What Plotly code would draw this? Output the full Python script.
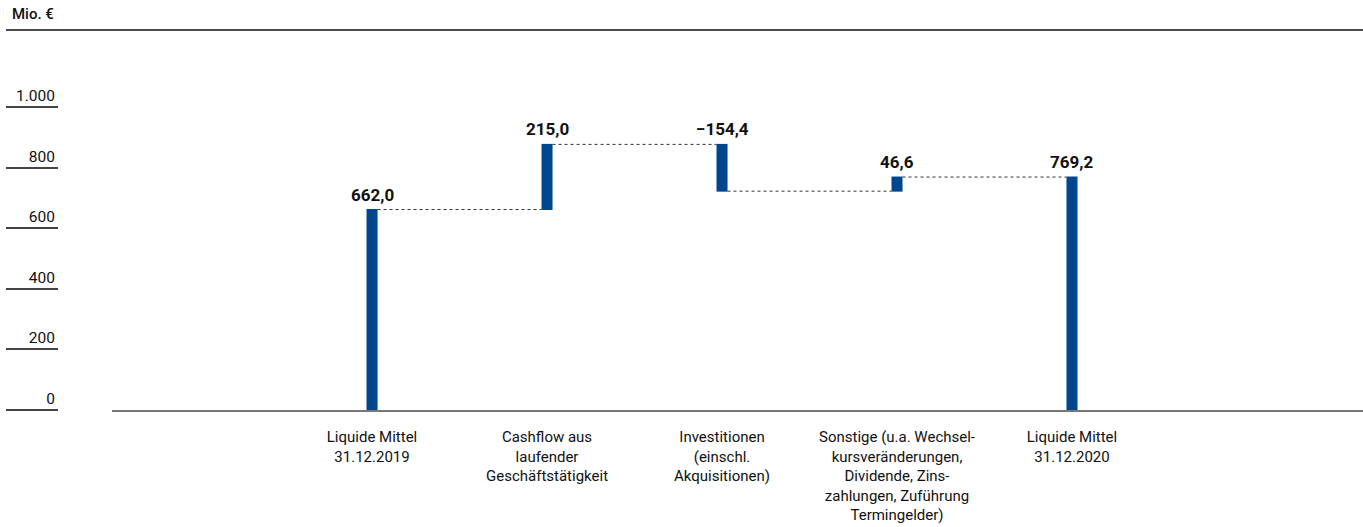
import plotly.graph_objects as go

categories = [
    "Liquide Mittel<br>31.12.2019",
    "Cashflow aus<br>laufender<br>Geschäftstätigkeit",
    "Investitionen<br>(einschl.<br>Akquisitionen)",
    "Sonstige (u.a. Wechsel-<br>kursveränderungen,<br>Dividende, Zins-<br>zahlungen, Zuführung<br>Termingelder)",
    "Liquide Mittel<br>31.12.2020",
]
values = [662.0, 215.0, -154.4, 46.6, 769.2]
measures = ["absolute", "relative", "relative", "relative", "total"]
value_labels = ["662,0", "215,0", "\u2212154,4", "46,6", "769,2"]
y_tickvals = [0, 200, 400, 600, 800, 1000]
y_ticktext = ["0", "200", "400", "600", "800", "1.000"]

BLUE = "#00468e"
FONT = "Roboto"

x_pos = list(range(len(categories)))

fig = go.Figure()
fig.add_trace(go.Waterfall(
    x=x_pos,
    y=values,
    measure=measures,
    width=0.063,
    increasing=dict(marker=dict(color=BLUE)),
    decreasing=dict(marker=dict(color=BLUE)),
    totals=dict(marker=dict(color=BLUE)),
    connector=dict(mode="between", line=dict(color="#333333", width=1, dash="dot")),
    hoverinfo="skip",
    showlegend=False,
))

# value labels at the top of each bar
running = 0.0
for i, (v, m) in enumerate(zip(values, measures)):
    if m == "absolute":
        start, end = 0.0, v
    elif m == "total":
        start, end = 0.0, running
    else:
        start, end = running, running + v
    running = end
    top = max(start, end)
    fig.add_annotation(x=x_pos[i], y=top, text="<b>" + value_labels[i] + "</b>",
                       showarrow=False, yanchor="bottom", xanchor="center", yshift=3,
                       font=dict(family=FONT, size=17, color="#111111"))

W, H = 1363, 527
ml, mr, mt, mb = 6, 0, 92, 117
paper_w = W - ml - mr
x_dom0 = (112 - ml) / paper_w
y_pos = (58 - ml) / paper_w

fig.update_layout(
    width=W, height=H,
    margin=dict(l=ml, r=mr, t=mt, b=mb),
    plot_bgcolor="white", paper_bgcolor="white",
    font=dict(family=FONT, size=15, color="#111111"),
    xaxis=dict(
        domain=[x_dom0, 1],
        range=[-1.486, 5.663],
        tickvals=x_pos, ticktext=categories,
        showgrid=False, zeroline=False,
        showline=True, linecolor="#777777", linewidth=2,
        ticks="", ticklabelstandoff=12,
        tickfont=dict(family=FONT, size=15, color="#111111"),
    ),
    yaxis=dict(
        range=[0, 1050],
        anchor="free", position=y_pos,
        tickvals=y_tickvals, ticktext=y_ticktext,
        ticks="outside", ticklen=52, tickwidth=1.5, tickcolor="#444444",
        ticklabelposition="outside top",
        showgrid=False, zeroline=False, showline=False,
        tickfont=dict(family=FONT, size=15.5, color="#111111"),
    ),
)

fig.add_annotation(xref="paper", yref="paper", x=0.003, y=1, yshift=78, xanchor="left",
                   yanchor="middle", text="Mio. €", showarrow=False,
                   font=dict(family=FONT, size=15, color="#111111", weight=500))
fig.add_shape(type="line", xref="paper", yref="paper", x0=0, x1=1,
              y0=1 + 62 / 318, y1=1 + 62 / 318,
              line=dict(color="#111111", width=1.5))

fig.write_html("out.html", config={"displayModeBar": False},
               post_script="document.body.style.margin='0';")
